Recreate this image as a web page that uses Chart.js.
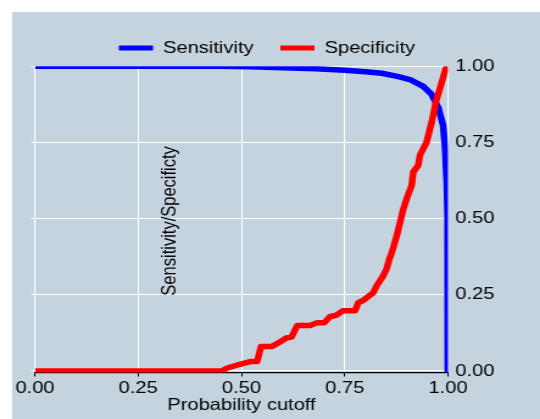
<!DOCTYPE html>
<html>
<head>
<meta charset="utf-8">
<script src="https://cdn.jsdelivr.net/npm/chart.js@4.4.1/dist/chart.umd.min.js"></script>
<style>
  html, body { margin: 0; padding: 0; background: #fff; overflow: hidden; }
  /* the graph is drawn narrow and widened, like the exported Stata image */
  #rocGraph { display: block; transform: scaleX(1.219); transform-origin: 0 0; }
</style>
</head>
<body>
<canvas id="rocGraph" width="443" height="419"></canvas>
<script>
// sensitivity against probability cutoff
var sensCutoff = [0, 0.45, 0.52, 0.60, 0.68, 0.75, 0.80, 0.84, 0.88, 0.91, 0.94, 0.96, 0.977, 0.988, 0.993, 0.997, 0.999, 0.999, 1.0];
var sensitivity = [1, 1, 0.998, 0.995, 0.992, 0.987, 0.982, 0.977, 0.966, 0.955, 0.934, 0.908, 0.863, 0.807, 0.731, 0.62, 0.51, 0.30, 0];

// specificity against probability cutoff
var specCutoff = [0, 0.453, 0.464, 0.496, 0.521, 0.538, 0.547, 0.573, 0.593, 0.608, 0.621, 0.635, 0.666, 0.682, 0.700,
                  0.714, 0.730, 0.746, 0.775, 0.783, 0.795, 0.803, 0.819, 0.827, 0.843, 0.851, 0.858, 0.864, 0.876,
                  0.884, 0.892, 0.900, 0.912, 0.916, 0.928, 0.932, 0.948, 0.961, 0.971, 0.981, 0.993, 0.998];
var specificity = [0, 0, 0.009, 0.022, 0.031, 0.031, 0.080, 0.080, 0.095, 0.108, 0.111, 0.149, 0.149, 0.158, 0.158,
                   0.178, 0.183, 0.198, 0.198, 0.224, 0.232, 0.240, 0.257, 0.279, 0.312, 0.334, 0.367, 0.389, 0.444,
                   0.488, 0.532, 0.565, 0.609, 0.653, 0.675, 0.708, 0.750, 0.819, 0.885, 0.929, 0.986, 1.0];

var tickValues = [0, 0.25, 0.5, 0.75, 1];

function toPoints(xs, ys) {
    var pts = [];
    for (var i = 0; i < xs.length; i++) pts.push({x: xs[i], y: ys[i]});
    return pts;
}

function keepTicks(scale) {
    scale.ticks = tickValues.map(function(v) { return {value: v}; });
}

function fmt(v) { return Number(v).toFixed(2); }

var fontFace = '"Liberation Sans", Arial, Helvetica, sans-serif';
var labelFont = {family: fontFace, size: 16.5};
var panelColor = '#c5d3de';

// grey-blue panel, white strip left and top
var panelBackground = {
    id: 'panelBackground',
    beforeDraw: function(chart) {
        var ctx = chart.ctx;
        ctx.save();
        ctx.fillStyle = panelColor;
        ctx.fillRect(10, 12, chart.width - 10, chart.height - 12);
        ctx.restore();
    }
};

// y title is placed inside the plot region
var innerYTitle = {
    id: 'innerYTitle',
    afterDatasetsDraw: function(chart, args, opts) {
        var a = chart.chartArea;
        var ctx = chart.ctx;
        ctx.save();
        ctx.translate(a.left + (a.right - a.left) * 0.327, a.top + (a.bottom - a.top) * 0.505);
        ctx.rotate(-Math.PI / 2);
        ctx.font = labelFont.size + 'px ' + fontFace;
        ctx.fillStyle = '#000';
        ctx.textAlign = 'center';
        ctx.textBaseline = 'middle';
        ctx.fillText(opts.text, 0, 0);
        ctx.restore();
    }
};

var rocConfig = {
    type: 'line',
    data: {
        datasets: [{
            label: 'Sensitivity',
            data: toPoints(sensCutoff, sensitivity),
            borderColor: '#0000ff',
            backgroundColor: '#0000ff',
            borderWidth: 5.5,
            borderJoinStyle: 'round',
            pointRadius: 0,
            tension: 0,
            order: 2
        }, {
            label: 'Specificity',
            data: toPoints(specCutoff, specificity),
            borderColor: '#ff0000',
            backgroundColor: '#ff0000',
            borderWidth: 5.5,
            borderJoinStyle: 'round',
            pointRadius: 0,
            tension: 0,
            order: 1
        }]
    },
    options: {
        responsive: false,
        devicePixelRatio: 1,
        animation: false,
        layout: {padding: {left: 0, right: 5, top: 17.75, bottom: 0}},
        plugins: {
            legend: {
                display: true,
                position: 'top',
                maxHeight: 50.75,
                labels: {
                    boxWidth: 28,
                    boxHeight: 5,
                    padding: 22,
                    color: '#000',
                    font: labelFont,
                    generateLabels: function(chart) {
                        return chart.data.datasets.map(function(ds, i) {
                            return {text: ds.label, fillStyle: ds.borderColor, strokeStyle: ds.borderColor,
                                    lineWidth: 0, hidden: false, datasetIndex: i};
                        });
                    }
                }
            },
            tooltip: {enabled: false},
            innerYTitle: {text: 'Sensitivity/Specificty'}
        },
        scales: {
            x: {
                type: 'linear',
                position: 'bottom',
                min: 0,
                max: 1,
                afterBuildTicks: keepTicks,
                afterFit: function(s) { s.height = 46.5; },
                grid: {color: '#ffffff', lineWidth: 1, tickColor: '#000', tickLength: 4, tickWidth: 1},
                border: {display: true, color: '#000', width: 1.3},
                ticks: {color: '#000', font: labelFont, padding: 2, maxRotation: 0, callback: fmt},
                title: {display: true, text: 'Probability cutoff', color: '#000', font: labelFont, padding: {top: 0, bottom: 4}}
            },
            y: {
                type: 'linear',
                position: 'right',
                min: -0.005,
                max: 1,
                afterBuildTicks: keepTicks,
                afterFit: function(s) { s.width = 70.5; },
                grid: {color: '#ffffff', lineWidth: 1, drawTicks: false},
                border: {display: false},
                ticks: {color: '#000', font: labelFont, padding: 6, callback: fmt}
            },
            yLeft: {
                type: 'linear',
                position: 'left',
                min: -0.005,
                max: 1,
                afterBuildTicks: keepTicks,
                afterFit: function(s) { s.width = 28.7; },
                grid: {drawOnChartArea: false, color: '#ffffff', tickLength: 3},
                border: {display: false},
                ticks: {display: false}
            }
        }
    },
    plugins: [panelBackground, innerYTitle]
};

var rocCtx = document.getElementById('rocGraph');
var rocChart = new Chart(rocCtx, rocConfig);
</script>
</body>
</html>
